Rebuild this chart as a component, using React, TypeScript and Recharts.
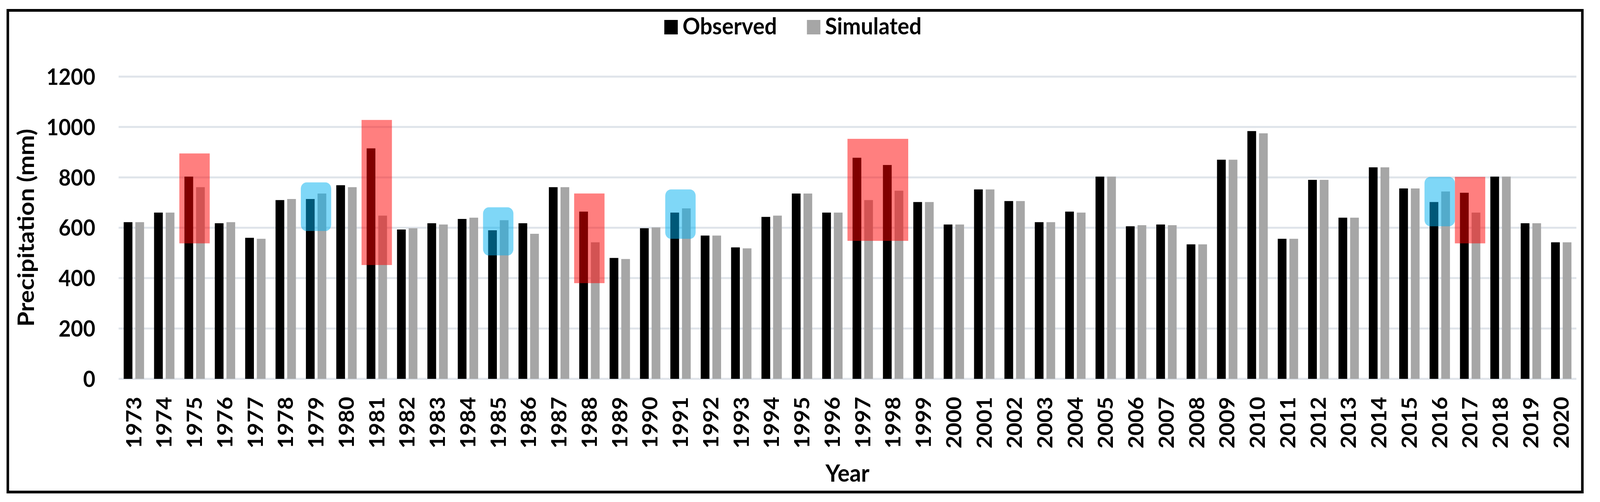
import React from "react";
import { BarChart, Bar, XAxis, YAxis, CartesianGrid, ReferenceArea, Label } from "recharts";

const years = [
  "1973", "1974", "1975", "1976", "1977", "1978", "1979", "1980", "1981", "1982",
  "1983", "1984", "1985", "1986", "1987", "1988", "1989", "1990", "1991", "1992",
  "1993", "1994", "1995", "1996", "1997", "1998", "1999", "2000", "2001", "2002",
  "2003", "2004", "2005", "2006", "2007", "2008", "2009", "2010", "2011", "2012",
  "2013", "2014", "2015", "2016", "2017", "2018", "2019", "2020",
];

const observed = [
  622, 660, 803, 618, 560, 710, 714, 769, 915, 593,
  618, 635, 590, 618, 761, 664, 480, 598, 660, 569,
  522, 643, 736, 660, 878, 849, 702, 613, 752, 706,
  622, 664, 803, 606, 613, 534, 870, 984, 556, 790,
  640, 840, 756, 702, 739, 803, 618, 542,
];

const simulated = [
  622, 660, 761, 622, 556, 714, 736, 761, 648, 598,
  613, 640, 630, 576, 761, 542, 476, 601, 677, 569,
  518, 648, 736, 660, 710, 747, 702, 613, 752, 706,
  622, 660, 803, 610, 610, 534, 870, 975, 556, 790,
  640, 840, 756, 744, 660, 803, 618, 542,
];

const yTicks = [0, 200, 400, 600, 800, 1000, 1200];

// highlighted years: red = observed well above simulated, blue = simulated above observed
const redBoxes = [
  { from: "1975", to: "1975", low: 538, high: 895 },
  { from: "1981", to: "1981", low: 452, high: 1028 },
  { from: "1988", to: "1988", low: 380, high: 736 },
  { from: "1997", to: "1998", low: 548, high: 953 },
  { from: "2017", to: "2017", low: 538, high: 802 },
];

const blueBoxes = [
  { from: "1979", to: "1979", low: 587, high: 780 },
  { from: "1985", to: "1985", low: 490, high: 681 },
  { from: "1991", to: "1991", low: 556, high: 752 },
  { from: "2016", to: "2016", low: 606, high: 802 },
];

const data = years.map((year, i) => ({
  year,
  observed: observed[i],
  simulated: simulated[i],
}));

const FONT = "Lato, 'Open Sans', sans-serif";
const W = 4398;
const H = 1284;

const YTick = ({ x, y, payload }: any) => (
  <text x={x - 64} y={y} dy="0.36em" textAnchor="end" fontFamily={FONT} fontWeight={700} fontSize={58} fill="#000">
    {payload.value}
  </text>
);

const XTick = ({ x, y, payload }: any) => {
  const ty = y + 46;
  return (
    <text
      x={x}
      y={ty}
      dy="0.36em"
      transform={`rotate(-90, ${x}, ${ty})`}
      textAnchor="end"
      fontFamily={FONT}
      fontWeight={700}
      fontSize={57}
      fill="#000"
    >
      {payload.value}
    </text>
  );
};

const roundedShape = (fill: string, rx: number) => (p: any) => (
  <rect x={p.x} y={p.y} width={p.width} height={p.height} rx={rx} ry={rx} fill={fill} fillOpacity={0.5} />
);

function ChartLegend() {
  const items = [
    { name: "Observed", color: "#000000", box: 1826, text: 1876 },
    { name: "Simulated", color: "#A6A6A6", box: 2218, text: 2268 },
  ];
  return (
    <svg width={W} height={140} style={{ position: "absolute", left: 0, top: 0 }}>
      {items.map((it) => (
        <g key={it.name}>
          <rect x={it.box} y={51} width={37} height={37} fill={it.color} />
          <text x={it.text} y={88} fontFamily={FONT} fontWeight={700} fontSize={60} fill="#000">
            {it.name}
          </text>
        </g>
      ))}
    </svg>
  );
}

export default function App() {
  // laid out in 4398x1284 units, then stretched onto the real viewport
  const vw = typeof window !== "undefined" ? window.innerWidth : W;
  const vh = typeof window !== "undefined" ? window.innerHeight : H;
  const sx = vw / W;
  const sy = vh / H;

  return (
    <div style={{ position: "fixed", left: 0, top: 0, right: 0, bottom: 0, overflow: "hidden", background: "#fff" }}>
      <div
        style={{
          position: "absolute",
          left: 0,
          top: 0,
          width: W,
          height: H,
          transform: `scale(${sx}, ${sy})`,
          transformOrigin: "0 0",
        }}
      >
        <div
          style={{
            position: "absolute",
            left: 18,
            top: 23,
            width: 4335,
            height: 1239,
            border: "7px solid #000",
            boxSizing: "border-box",
          }}
        />
        <div style={{ position: "absolute", left: 0, top: 0 }}>
          <BarChart
            width={W}
            height={H}
            data={data}
            margin={{ top: 196, right: 65, bottom: 115, left: 126 }}
            barGap={8}
            barSize={24}
          >
            <CartesianGrid horizontal vertical={false} stroke="#dfe4ea" strokeWidth={5} />
            <XAxis
              dataKey="year"
              interval={0}
              axisLine={false}
              tickLine={false}
              tickSize={0}
              tickMargin={0}
              height={200}
              tick={<XTick />}
            >
              <Label
                content={({ viewBox }: any) => (
                  <text
                    x={viewBox.x + viewBox.width / 2}
                    y={1232}
                    textAnchor="middle"
                    fontFamily={FONT}
                    fontWeight={700}
                    fontSize={62}
                    fill="#000"
                  >
                    Year
                  </text>
                )}
              />
            </XAxis>
            <YAxis
              domain={[0, 1200]}
              ticks={yTicks}
              axisLine={false}
              tickLine={false}
              tickSize={0}
              tickMargin={0}
              width={200}
              tick={<YTick />}
            >
              <Label
                content={({ viewBox }: any) => {
                  const cy = viewBox.y + viewBox.height / 2;
                  return (
                    <text
                      x={93}
                      y={cy}
                      transform={`rotate(-90, 93, ${cy})`}
                      textAnchor="middle"
                      fontFamily={FONT}
                      fontWeight={700}
                      fontSize={62}
                      fill="#000"
                    >
                      Precipitation (mm)
                    </text>
                  );
                }}
              />
            </YAxis>
            <Bar dataKey="observed" name="Observed" fill="#000000" isAnimationActive={false} />
            <Bar dataKey="simulated" name="Simulated" fill="#A6A6A6" isAnimationActive={false} />
            {redBoxes.map((b) => (
              <ReferenceArea
                key={"r" + b.from}
                x1={b.from}
                x2={b.to}
                y1={b.low}
                y2={b.high}
                zIndex={700}
                shape={roundedShape("#FF0000", 0)}
              />
            ))}
            {blueBoxes.map((b) => (
              <ReferenceArea
                key={"b" + b.from}
                x1={b.from}
                x2={b.to}
                y1={b.low}
                y2={b.high}
                zIndex={700}
                shape={roundedShape("#00B0F0", 16)}
              />
            ))}
          </BarChart>
        </div>
        <ChartLegend />
      </div>
    </div>
  );
}
